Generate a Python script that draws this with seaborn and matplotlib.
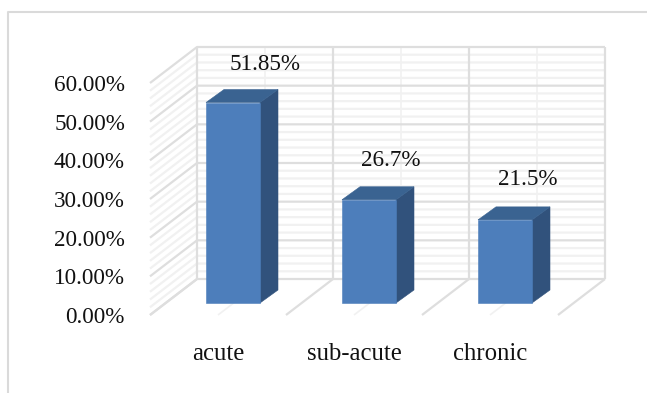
import matplotlib
matplotlib.use("Agg")
import matplotlib.pyplot as plt
from matplotlib.lines import Line2D
from matplotlib.patches import Polygon
from matplotlib.transforms import Affine2D
import seaborn as sns

categories = ["acute", "sub-acute", "chronic"]
values = [51.85, 26.7, 21.5]
value_labels = ["51.85%", "26.7%", "21.5%"]
major_ticks = [0, 10, 20, 30, 40, 50, 60]
minor_ticks = [v for v in range(0, 61, 2) if v % 10]
tick_labels = [f"{v:.2f}%" for v in major_ticks]
label_offsets = [(47, 50), (37, 51), (38, 52)]

W, H = 647, 393
sns.set_theme(style="white")
plt.rcParams["font.family"] = ["Liberation Serif", "DejaVu Sans"]

fig = plt.figure(figsize=(W / 100, H / 100), dpi=100)
ax = fig.add_axes([150 / W, (H - 315) / H, 408 / W, 232 / H])

FRONT, SIDE, TOP = "#4d7ebb", "#31527c", "#3a6391"
MAJOR, MINOR = "#dedede", "#f1f1f1"

sns.barplot(x=categories, y=values, color=FRONT, width=0.397, saturation=1, ax=ax, zorder=5)
ax.set_xlim(-0.5, 2.5)
ax.set_ylim(0, 60)

# Oblique projection: data-unit shift of the back wall and of the bar bodies
px_x, px_y = 1 / 136, 60 / 232
wall_dx, wall_dy = 47 * px_x, 36 * px_y
gap_dx, gap_dy = 15 * px_x, 12 * px_y
body_dx, body_dy = 18 * px_x, 13 * px_y


def wall_line(xs, ys, color, lw, z=1):
    ax.plot(xs, ys, color=color, lw=lw, clip_on=False, zorder=z, solid_capstyle="butt")


x0, x1 = -0.5, 2.5
for v in minor_ticks:
    wall_line([x0, x0 + wall_dx, x1 + wall_dx], [v, v + wall_dy, v + wall_dy], MINOR, 1.6, 1)
for v in major_ticks:
    wall_line([x0, x0 + wall_dx, x1 + wall_dx], [v, v + wall_dy, v + wall_dy], MAJOR, 1.6, 2)

# Floor rays and upright lines on the back wall
for c in [0, 1, 2]:
    wall_line([c, c + wall_dx], [0, wall_dy], MINOR, 1.2, 1)
    wall_line([c + wall_dx, c + wall_dx], [wall_dy, 60 + wall_dy], MINOR, 1.2, 1)
for c in [-0.5, 0.5, 1.5, 2.5]:
    wall_line([c, c + wall_dx], [0, wall_dy], MAJOR, 1.6, 2)
    wall_line([c + wall_dx, c + wall_dx], [wall_dy, 60 + wall_dy], MAJOR, 1.6, 2)

# Shift the seaborn bars off the floor edge and give them side and top faces
shift = Affine2D().translate(gap_dx, gap_dy) + ax.transData
for bar in ax.patches[:len(values)]:
    bar.set_transform(shift)
    bar.set_clip_on(False)
    bar.set_edgecolor(FRONT)
    bar.set_linewidth(0.4)
    left, right = bar.get_x(), bar.get_x() + bar.get_width()
    h = bar.get_height()
    ax.add_patch(Polygon([(right, 0), (right + body_dx, body_dy), (right + body_dx, h + body_dy), (right, h)],
                         closed=True, fc=SIDE, ec=SIDE, lw=0.4, transform=shift, clip_on=False, zorder=4.9))
    ax.add_patch(Polygon([(left, h), (left + body_dx, h + body_dy), (right + body_dx, h + body_dy), (right, h)],
                         closed=True, fc=TOP, ec=TOP, lw=0.4, transform=shift, clip_on=False, zorder=4.9))

for i, (v, text, off) in enumerate(zip(values, value_labels, label_offsets)):
    ax.annotate(text, (i, v), xytext=off, textcoords="offset pixels", ha="center", va="center",
                fontsize=16.7, color="#111111", zorder=6, annotation_clip=False)

sns.despine(ax=ax, left=True, bottom=True)
ax.patch.set_alpha(0)
ax.set_yticks(major_ticks, tick_labels)
ax.set_xticks([0, 1, 2], categories)
ax.set_xlabel("")
ax.set_ylabel("")
ax.tick_params(axis="y", length=0, pad=18, labelsize=16.7, labelcolor="#111111")
ax.tick_params(axis="x", length=0, pad=20, labelsize=17.8, labelcolor="#111111")
ax.grid(False)

# Outer chart frame: only the top and left edges fall inside the canvas
fig.add_artist(Line2D([8 / W, 8 / W, 1], [0, (H - 12) / H, (H - 12) / H], color="#dadada", lw=1.5))

fig.savefig("out.png", dpi=100)
